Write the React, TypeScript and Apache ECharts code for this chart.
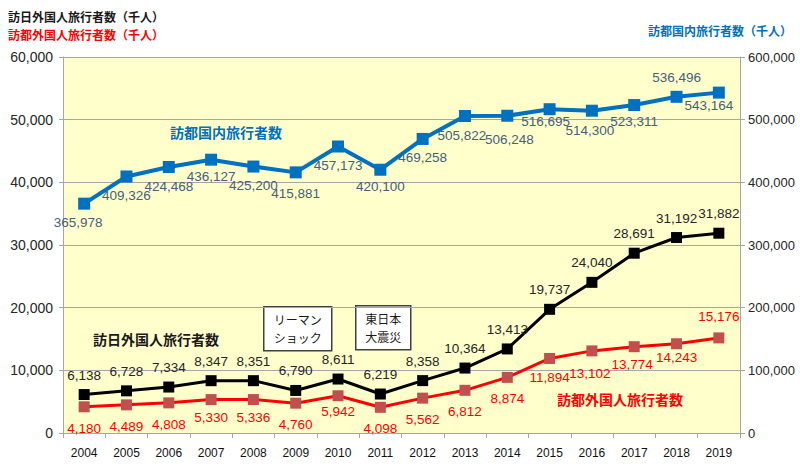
import React, { useEffect, useRef } from "react";
import * as echarts from "echarts";

const years = ["2004","2005","2006","2007","2008","2009","2010","2011","2012","2013","2014","2015","2016","2017","2018","2019"];
const domestic = [365978, 409326, 424468, 436127, 425200, 415881, 457173, 420100, 469258, 505822, 506248, 516695, 514300, 523311, 536496, 543164];
const toJapan = [6138, 6728, 7334, 8347, 8351, 6790, 8611, 6219, 8358, 10364, 13413, 19737, 24040, 28691, 31192, 31882];
const toTokyo = [4180, 4489, 4808, 5330, 5336, 4760, 5942, 4098, 5562, 6812, 8874, 11894, 13102, 13774, 14243, 15176];

// label placement (style only)
const domesticLabelPos = ["bottom","bottom","bottom","bottom","bottom","bottom","bottom","bottom","bottom","bottom","bottom","bottom","bottom","bottom","top","bottom"];
const domesticLabelShift = [[-6,0],[0,0],[0,0],[0,-2],[0,0],[0,2],[0,0],[0,-2],[0,0],[-3,0],[2,5],[-4,-7],[-2,1],[0,-3],[0,0],[-10,-6]];
const tokyoLabelPos = ["bottom","bottom","bottom","bottom","bottom","bottom","bottom","bottom","bottom","bottom","bottom","bottom","bottom","bottom","bottom","top"];
const tokyoLabelShift = [[0,0],[0,0],[0,0],[0,-4],[0,-4],[0,0],[0,-6],[0,0],[0,0],[0,0],[0,0],[0,-2],[-2,1],[-2,-4],[0,-8],[0,0]];

const fmt = (v: number) => Number(v).toLocaleString("en-US");
const FONT = "'Liberation Sans', 'Noto Sans', sans-serif";
const CJK = "'Noto Sans CJK JP', sans-serif";

function noteBox(x: number, y: number, w: number, h: number, line1: string, line2: string) {
  return {
    type: "group", left: x, top: y,
    children: [
      { type: "rect", shape: { x: 0, y: 0, width: w, height: h }, style: { fill: "#ffffff", stroke: "#404040", lineWidth: 1.5 } },
      { type: "text", x: w / 2, y: h / 2 - 9, style: { text: line1, fill: "#1a1a1a", font: `12px ${CJK}`, align: "center", verticalAlign: "middle" } },
      { type: "text", x: w / 2, y: h / 2 + 9, style: { text: line2, fill: "#1a1a1a", font: `12px ${CJK}`, align: "center", verticalAlign: "middle" } },
    ],
  };
}

export default function App() {
  const ref = useRef<HTMLDivElement>(null);
  useEffect(() => {
    if (!ref.current) return;
    const chart = echarts.init(ref.current, null, { renderer: "svg" });
    const gridLine = "#A6A6A6";
    chart.setOption({
      animation: false,
      backgroundColor: "#ffffff",
      grid: { left: 63, right: 60, top: 57, bottom: 35, show: true, backgroundColor: "#FFFFCC", borderWidth: 0 },
      xAxis: {
        type: "category",
        data: years,
        boundaryGap: true,
        axisLine: { lineStyle: { color: gridLine, width: 1 } },
        axisTick: { show: true, inside: false, length: 5, lineStyle: { color: gridLine } },
        axisLabel: { color: "#111111", fontSize: 12, fontFamily: FONT, margin: 14 },
      },
      yAxis: [
        {
          type: "value", min: 0, max: 60000, interval: 10000, position: "left",
          axisLine: { show: true, lineStyle: { color: gridLine } },
          axisTick: { show: true, length: 4, lineStyle: { color: gridLine } },
          splitLine: { show: true, lineStyle: { color: gridLine, width: 1 } },
          axisLabel: { color: "#262626", fontSize: 14, fontFamily: FONT, margin: 10, formatter: fmt },
        },
        {
          type: "value", min: 0, max: 600000, interval: 100000, position: "right",
          axisLine: { show: true, lineStyle: { color: gridLine } },
          axisTick: { show: true, length: 5, lineStyle: { color: gridLine } },
          splitLine: { show: false },
          axisLabel: { color: "#262626", fontSize: 13, fontFamily: FONT, margin: 8, formatter: fmt },
        },
      ],
      series: [
        {
          name: "訪都国内旅行者数",
          type: "line",
          yAxisIndex: 1,
          data: domestic.map((v, i) => ({ value: v, label: { position: domesticLabelPos[i], offset: domesticLabelShift[i] } })),
          symbol: "rect",
          symbolSize: 12,
          itemStyle: { color: "#0070C0" },
          lineStyle: { color: "#0070C0", width: 4 },
          label: { show: true, distance: 6, color: "#44607E", fontSize: 13.5, fontFamily: FONT, formatter: (p: any) => fmt(p.value) },
          z: 3,
        },
        {
          name: "訪日外国人旅行者数",
          type: "line",
          yAxisIndex: 0,
          data: toJapan,
          symbol: "rect",
          symbolSize: 11,
          itemStyle: { color: "#000000" },
          lineStyle: { color: "#000000", width: 3 },
          label: { show: true, position: "top", distance: 7, color: "#262626", fontSize: 13.5, fontFamily: FONT, formatter: (p: any) => fmt(p.value) },
          z: 4,
        },
        {
          name: "訪都外国人旅行者数",
          type: "line",
          yAxisIndex: 0,
          data: toTokyo.map((v, i) => ({ value: v, label: { position: tokyoLabelPos[i], offset: tokyoLabelShift[i] } })),
          symbol: "rect",
          symbolSize: 11,
          itemStyle: { color: "#C0504D" },
          lineStyle: { color: "#FF0000", width: 3 },
          label: { show: true, distance: 9, color: "#FF0000", fontSize: 13.5, fontFamily: FONT, formatter: (p: any) => fmt(p.value) },
          z: 4,
        },
      ],
      graphic: [
        { type: "text", left: 8, top: 10, style: { text: "訪日外国人旅行者数（千人）", fill: "#1a1a1a", font: `bold 12px ${CJK}` } },
        { type: "text", left: 8, top: 28, style: { text: "訪都外国人旅行者数（千人）", fill: "#FF0000", font: `bold 12px ${CJK}` } },
        { type: "text", right: 8, top: 24, style: { text: "訪都国内旅行者数（千人）", fill: "#0070C0", font: `bold 12px ${CJK}` } },
        { type: "text", left: 170, top: 125, style: { text: "訪都国内旅行者数", fill: "#0070C0", font: `bold 14px ${CJK}` } },
        { type: "text", left: 93, top: 332, style: { text: "訪日外国人旅行者数", fill: "#1a1a1a", font: `bold 14px ${CJK}` } },
        { type: "text", left: 557, top: 392, style: { text: "訪都外国人旅行者数", fill: "#FF0000", font: `bold 14px ${CJK}` } },
        noteBox(263, 306, 68, 44, "リーマン", "ショック"),
        noteBox(355, 305, 55, 44, "東日本", "大震災"),
      ],
    });
    return () => chart.dispose();
  }, []);
  return <div ref={ref} style={{ width: 800, height: 468, position: "absolute", left: 0, top: 0 }} />;
}
